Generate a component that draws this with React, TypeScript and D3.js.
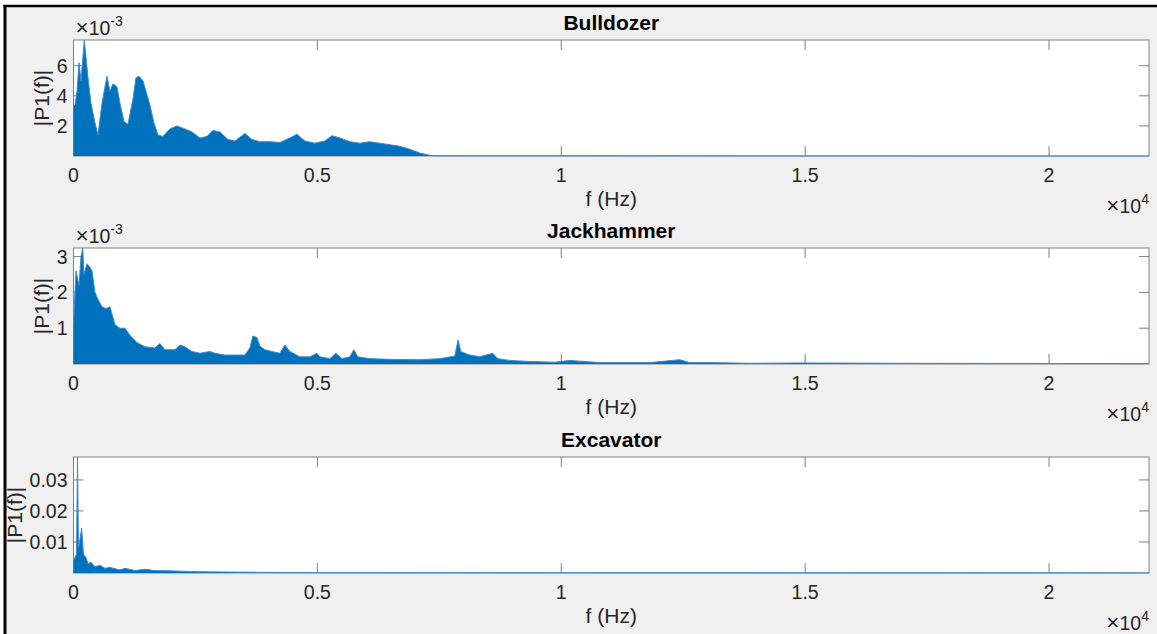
import { useRef, useEffect } from "react";
import * as d3 from "d3";

// [frequency Hz, |P1(f)|] envelope points
const bulldozer: [number, number][] = [
  [0, 3.3e-3], [31, 3.4e-3], [72, 4.3e-3], [113, 6.2e-3], [154, 5.0e-3], [221, 7.7e-3],
  [256, 6.6e-3], [297, 5.2e-3], [359, 3.5e-3], [441, 2.2e-3], [502, 1.4e-3], [584, 3.5e-3],
  [686, 5.3e-3], [748, 4.3e-3], [809, 4.8e-3], [891, 4.6e-3], [953, 3.5e-3], [1035, 2.3e-3],
  [1117, 2.1e-3], [1219, 3.8e-3], [1281, 5.2e-3], [1342, 5.3e-3], [1424, 5.0e-3], [1486, 4.3e-3],
  [1567, 3.4e-3], [1649, 2.2e-3], [1731, 1.4e-3], [1834, 1.3e-3], [1977, 1.8e-3], [2121, 2.0e-3],
  [2285, 1.8e-3], [2428, 1.6e-3], [2592, 1.2e-3], [2735, 1.3e-3], [2858, 1.7e-3], [3002, 1.6e-3],
  [3166, 1.1e-3], [3309, 1.0e-3], [3514, 1.5e-3], [3658, 1.1e-3], [3822, 0.95e-3], [4026, 0.95e-3],
  [4231, 0.9e-3], [4436, 1.2e-3], [4580, 1.45e-3], [4743, 1.0e-3], [4948, 0.85e-3], [5153, 1.0e-3],
  [5297, 1.35e-3], [5461, 1.2e-3], [5666, 0.95e-3], [5871, 0.85e-3], [6075, 0.95e-3], [6280, 0.85e-3],
  [6485, 0.75e-3], [6690, 0.65e-3], [6895, 0.45e-3], [7100, 0.2e-3], [7305, 0.05e-3], [7428, 0.01e-3],
  [22050, 0],
];

const jackhammer: [number, number][] = [
  [0, 1.1e-3], [51, 2.6e-3], [113, 2.2e-3], [154, 3.0e-3], [189, 3.24e-3], [215, 2.5e-3],
  [277, 2.8e-3], [338, 2.7e-3], [379, 2.6e-3], [441, 2.0e-3], [502, 1.8e-3], [584, 1.6e-3],
  [666, 1.55e-3], [748, 1.6e-3], [850, 1.1e-3], [953, 1.0e-3], [1055, 1.0e-3], [1158, 0.8e-3],
  [1301, 0.6e-3], [1465, 0.48e-3], [1670, 0.45e-3], [1772, 0.57e-3], [1875, 0.4e-3], [2080, 0.4e-3],
  [2182, 0.53e-3], [2285, 0.48e-3], [2428, 0.35e-3], [2592, 0.3e-3], [2797, 0.35e-3], [2899, 0.3e-3],
  [3104, 0.25e-3], [3309, 0.25e-3], [3514, 0.25e-3], [3617, 0.45e-3], [3678, 0.78e-3], [3760, 0.74e-3],
  [3822, 0.5e-3], [3924, 0.4e-3], [4067, 0.35e-3], [4231, 0.3e-3], [4334, 0.53e-3], [4436, 0.35e-3],
  [4641, 0.2e-3], [4846, 0.2e-3], [4989, 0.3e-3], [5051, 0.2e-3], [5256, 0.15e-3], [5378, 0.3e-3],
  [5501, 0.15e-3], [5666, 0.2e-3], [5748, 0.4e-3], [5829, 0.2e-3], [6075, 0.15e-3], [6485, 0.13e-3],
  [7100, 0.12e-3], [7510, 0.15e-3], [7817, 0.22e-3], [7885, 0.67e-3], [7940, 0.35e-3], [8124, 0.25e-3],
  [8329, 0.2e-3], [8596, 0.3e-3], [8698, 0.15e-3], [8944, 0.1e-3], [9354, 0.07e-3], [9866, 0.05e-3],
  [10173, 0.1e-3], [10480, 0.07e-3], [10787, 0.04e-3], [11813, 0.04e-3], [12428, 0.12e-3],
  [12633, 0.04e-3], [13043, 0.04e-3], [13862, 0.02e-3], [14887, 0.03e-3], [16934, 0.02e-3],
  [22050, 0.01e-3],
];

const excavator: [number, number][] = [
  [0, 0.004], [61, 0.006], [82, 0.0374], [102, 0.008], [133, 0.011], [168, 0.0144],
  [205, 0.006], [256, 0.005], [297, 0.003], [359, 0.0035], [441, 0.002], [543, 0.0025],
  [645, 0.0015], [748, 0.0018], [953, 0.001], [1055, 0.0015], [1260, 0.0008], [1465, 0.0012],
  [1670, 0.0008], [1977, 0.0007], [2182, 0.0006], [2592, 0.0004], [3207, 0.0003], [4026, 0.0002],
  [5051, 0.0001], [22050, 0.00003],
];

const titles = ["Bulldozer", "Jackhammer", "Excavator"];
const yMaxes = [7.71e-3, 3.24e-3, 0.0374];
const yTicks = [
  [2e-3, 4e-3, 6e-3],
  [1e-3, 2e-3, 3e-3],
  [0.01, 0.02, 0.03],
];
const yExponents = [-3, -3, 0];
const xTicks = [0, 5000, 10000, 15000, 20000];
const xTickLabels = ["0", "0.5", "1", "1.5", "2"];
const xMax = 22050;

const W = 1157;
const H = 634;
const FONT = "'Liberation Sans', Arial, Helvetica, sans-serif";
const BLUE = "#0072BD";
const AXIS = "#808080";
const TEXT = "#262626";
const TICK_FS = 19.5;
const LABEL_FS = 21;

export default function App() {
  const svgRef = useRef<SVGSVGElement>(null);

  useEffect(() => {
    if (!svgRef.current) return;
    const svg = d3.select(svgRef.current);
    svg.selectAll("*").remove();

    // figure background + frame
    svg.append("rect").attr("width", W).attr("height", H).attr("fill", "#ffffff");
    svg.append("rect").attr("x", 5).attr("y", 6).attr("width", W - 5).attr("height", H - 6).attr("fill", "#f0f0f0");
    svg.append("line").attr("x1", 3.5).attr("x2", W).attr("y1", 6).attr("y2", 6).attr("stroke", "#000").attr("stroke-width", 2.5);
    svg.append("line").attr("x1", 5).attr("x2", 5).attr("y1", 5).attr("y2", H).attr("stroke", "#000").attr("stroke-width", 3);

    const left = 73.5;
    const right = 1149;
    const tops = [40, 248, 457];
    const plotH = 116;
    const series = [bulldozer, jackhammer, excavator];

    const x = d3.scaleLinear().domain([0, xMax]).range([left, right]);

    series.forEach((data, i) => {
      const top = tops[i];
      const bottom = top + plotH;
      const y = d3.scaleLinear().domain([0, yMaxes[i]]).range([bottom, top]);
      const g = svg.append("g");
      const scale = Math.pow(10, -yExponents[i]);

      // axes background
      g.append("rect")
        .attr("x", left).attr("y", top)
        .attr("width", right - left).attr("height", plotH)
        .attr("fill", "#ffffff").attr("stroke", AXIS).attr("stroke-width", 1);

      // ticks (inside, both sides)
      xTicks.forEach((t) => {
        g.append("line").attr("x1", x(t)).attr("x2", x(t)).attr("y1", bottom).attr("y2", bottom - 10).attr("stroke", AXIS);
        g.append("line").attr("x1", x(t)).attr("x2", x(t)).attr("y1", top).attr("y2", top + 10).attr("stroke", AXIS);
      });
      yTicks[i].forEach((t) => {
        g.append("line").attr("x1", left).attr("x2", left + 10).attr("y1", y(t)).attr("y2", y(t)).attr("stroke", AXIS);
        g.append("line").attr("x1", right).attr("x2", right - 10).attr("y1", y(t)).attr("y2", y(t)).attr("stroke", AXIS);
      });

      // spectrum
      const clipId = `clip-${i}`;
      svg.append("defs").append("clipPath").attr("id", clipId)
        .append("rect").attr("x", left).attr("y", top - 1).attr("width", right - left).attr("height", plotH + 2);
      const area = d3.area<[number, number]>()
        .x((d) => x(d[0]))
        .y0(y(0))
        .y1((d) => y(d[1]));
      const line = d3.line<[number, number]>()
        .x((d) => x(d[0]))
        .y((d) => y(d[1]));
      const dg = g.append("g").attr("clip-path", `url(#${clipId})`);
      dg.append("path").datum(data).attr("fill", BLUE).attr("d", area);
      dg.append("path").datum(data).attr("fill", "none").attr("stroke", "#3d8ccc").attr("stroke-width", 1).attr("d", line);

      // x tick labels
      xTicks.forEach((t, k) => {
        g.append("text")
          .attr("x", x(t)).attr("y", bottom + 26)
          .attr("text-anchor", "middle")
          .attr("font-family", FONT).attr("font-size", TICK_FS).attr("fill", TEXT)
          .text(xTickLabels[k]);
      });

      // y tick labels
      const yLab = g.append("g");
      yTicks[i].forEach((t) => {
        const v = t * scale;
        yLab.append("text")
          .attr("x", left - 6).attr("y", y(t))
          .attr("text-anchor", "end").attr("dominant-baseline", "central")
          .attr("font-family", FONT).attr("font-size", TICK_FS).attr("fill", TEXT)
          .text(yExponents[i] === 0 ? d3.format(".2f")(v) : d3.format("d")(Math.round(v)));
      });
      const bb = (yLab.node() as SVGGElement).getBBox();

      // y label
      g.append("text")
        .attr("transform", `translate(${bb.x - 15},${(top + bottom) / 2}) rotate(-90)`)
        .attr("text-anchor", "middle").attr("dominant-baseline", "central")
        .attr("font-family", FONT).attr("font-size", LABEL_FS).attr("fill", TEXT)
        .text("|P1(f)|");

      // x label
      g.append("text")
        .attr("x", (left + right) / 2).attr("y", bottom + 50)
        .attr("text-anchor", "middle")
        .attr("font-family", FONT).attr("font-size", LABEL_FS).attr("fill", TEXT)
        .text("f (Hz)");

      // title
      g.append("text")
        .attr("x", (left + right) / 2).attr("y", top - 10)
        .attr("text-anchor", "middle")
        .attr("font-family", FONT).attr("font-size", LABEL_FS).attr("font-weight", "bold").attr("fill", "#000")
        .text(titles[i]);

      // x exponent
      const xe = g.append("text")
        .attr("x", right).attr("y", bottom + 57)
        .attr("text-anchor", "end")
        .attr("font-family", FONT).attr("font-size", TICK_FS).attr("fill", TEXT);
      xe.append("tspan").attr("font-size", TICK_FS + 3).text("×");
      xe.append("tspan").text("10");
      xe.append("tspan").attr("dy", -9).attr("font-size", 14).text("4");

      // y exponent
      if (yExponents[i] !== 0) {
        const ye = g.append("text")
          .attr("x", left + 2).attr("y", top - 5)
          .attr("font-family", FONT).attr("font-size", TICK_FS).attr("fill", TEXT);
        ye.append("tspan").attr("font-size", TICK_FS + 3).text("×");
        ye.append("tspan").text("10");
        ye.append("tspan").attr("dy", -9).attr("font-size", 14).text(String(yExponents[i]));
      }
    });
  }, []);

  return (
    <svg
      ref={svgRef}
      width={W}
      height={H}
      style={{ position: "fixed", left: 0, top: 0, display: "block" }}
    />
  );
}
